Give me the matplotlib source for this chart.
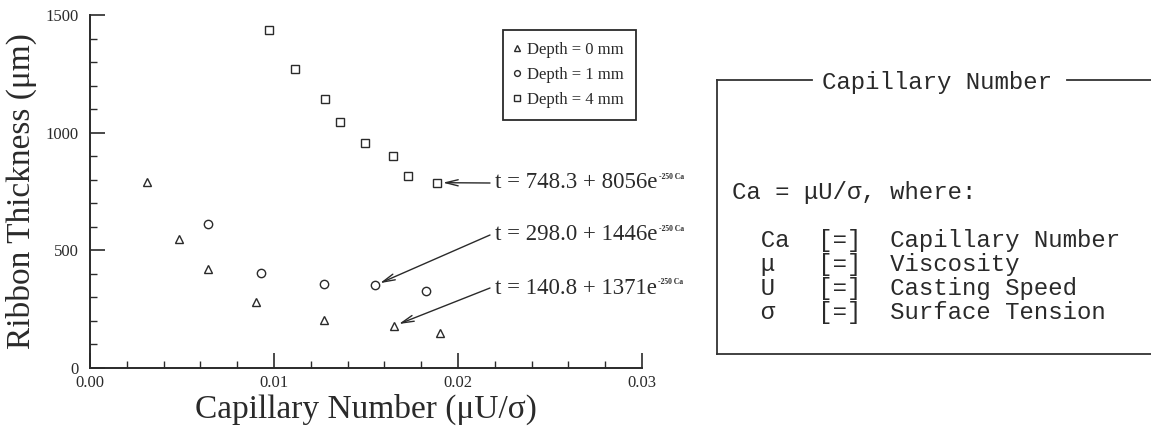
import matplotlib
matplotlib.use('Agg')
import matplotlib.pyplot as plt
from matplotlib.ticker import MultipleLocator, FormatStrFormatter
from matplotlib.lines import Line2D

plt.rcParams['font.family'] = ['Liberation Serif', 'DejaVu Serif']

# data
ca_0mm = [0.0031, 0.00485, 0.00642, 0.00904, 0.0127, 0.0165, 0.0190]
t_0mm = [788, 549, 420, 280, 202, 177, 149]

ca_1mm = [0.00642, 0.00927, 0.0127, 0.01548, 0.01825]
t_1mm = [611, 403, 354, 350, 328]

ca_4mm = [0.00972, 0.01115, 0.01276, 0.01358, 0.01494, 0.01649, 0.01728, 0.01887]
t_4mm = [1436, 1269, 1143, 1044, 955, 901, 817, 787]

fit_labels = ['t = 748.3 + 8056e', 't = 298.0 + 1446e', 't = 140.8 + 1371e']
fit_targets = [(ca_4mm[7], t_4mm[7]), (ca_1mm[3], t_1mm[3]), (ca_0mm[5], t_0mm[5])]
fit_text_y = [183, 235, 288]   # pixel rows of the equation labels

box_lines = ['Ca = \u03bcU/\u03c3, where:',
             '  Ca  [=]  Capillary Number',
             '  \u03bc   [=]  Viscosity',
             '  U   [=]  Casting Speed',
             '  \u03c3   [=]  Surface Tension']
box_line_y = [193, 241, 264, 288, 312]

W, H = 1151, 428
ink = '#2a2a2a'

fig = plt.figure(figsize=(W / 100, H / 100), dpi=100)
ax = fig.add_axes([90 / W, 1 - 367.7 / H, 552 / W, 352.7 / H])

mk = dict(linestyle='none', mfc='none', mec=ink, mew=1.0, clip_on=False)
ax.plot(ca_0mm, t_0mm, marker='^', ms=6, label='Depth = 0 mm', **mk)
ax.plot(ca_1mm, t_1mm, marker='o', ms=6, label='Depth = 1 mm', **mk)
ax.plot(ca_4mm, t_4mm, marker='s', ms=6, label='Depth = 4 mm', **mk)

ax.set_xlim(0, 0.03)
ax.set_ylim(0, 1500)
ax.xaxis.set_major_locator(MultipleLocator(0.01))
ax.xaxis.set_minor_locator(MultipleLocator(0.002))
ax.xaxis.set_major_formatter(FormatStrFormatter('%.2f'))
ax.yaxis.set_major_locator(MultipleLocator(500))
ax.yaxis.set_minor_locator(MultipleLocator(100))

for s in ['top', 'right']:
    ax.spines[s].set_visible(False)
for s in ['left', 'bottom']:
    ax.spines[s].set_linewidth(1.4)
    ax.spines[s].set_color(ink)

ax.tick_params(which='both', direction='in', colors=ink, labelcolor=ink)
ax.tick_params(which='major', length=11, width=1.2, labelsize=12)
ax.tick_params(which='minor', length=5, width=1.0)
ax.tick_params(axis='x', pad=5.5)
ax.tick_params(axis='y', pad=8)

ax.set_xlabel('Capillary Number (\u03bcU/\u03c3)', fontsize=24, color=ink)
ax.set_ylabel('Ribbon Thickness (\u03bcm)', fontsize=24, color=ink)
ax.xaxis.set_label_coords(0.5, (367.7 - 409) / 352.7)
ax.xaxis.label.set_va('center')
ax.yaxis.set_label_coords((21 - 90) / 552, 0.5)
ax.yaxis.label.set_va('center')

leg = ax.legend(loc='upper left', bbox_to_anchor=(503 / W, 1 - 30 / H),
                bbox_transform=fig.transFigure, borderaxespad=0,
                fontsize=12, markerscale=0.7, handlelength=0.3,
                handletextpad=0.45, labelspacing=0.55, borderpad=0.7,
                fancybox=False, framealpha=1, edgecolor=ink)
leg.get_frame().set_linewidth(1.3)
for t in leg.get_texts():
    t.set_color(ink)

# fitted equations with arrows
for lab, (cx, cy), py in zip(fit_labels, fit_targets, fit_text_y):
    txt = fig.text(495 / W, 1 - py / H, lab, fontsize=16.5, color=ink,
                   ha='left', va='center')
    ax.annotate('', xy=(cx, cy), xycoords='data',
                xytext=(490 / W, 1 - py / H), textcoords='figure fraction',
                arrowprops=dict(arrowstyle='->,head_length=0.9,head_width=0.22',
                                color=ink, lw=1.0, shrinkA=0, shrinkB=4))
    ax.annotate('-250 Ca', xy=(1.01, 0.8), xycoords=txt, fontsize=5.5,
                color=ink, ha='left', va='center', fontweight='bold')

# right panel: definition box
mono = ['Liberation Mono', 'DejaVu Sans Mono']
fs = lambda px, py: (px / W, 1 - py / H)
box_col = '#333333'
for (x0, y0), (x1, y1) in [((717, 80), (812, 80)), ((1067, 80), (1151, 80)),
                           ((717, 80), (717, 354)), ((717, 354), (1151, 354))]:
    a, b = fs(x0, y0)
    c, d = fs(x1, y1)
    fig.add_artist(Line2D([a, c], [b, d], color=box_col, lw=1.3,
                          transform=fig.transFigure))

fig.text(*fs(937, 82), 'Capillary Number', family=mono, fontsize=17.3,
         color=ink, ha='center', va='center')
for line, py in zip(box_lines, box_line_y):
    fig.text(*fs(732, py), line, family=mono, fontsize=17.3, color=ink,
             ha='left', va='center')

fig.savefig('out.png', dpi=100)
